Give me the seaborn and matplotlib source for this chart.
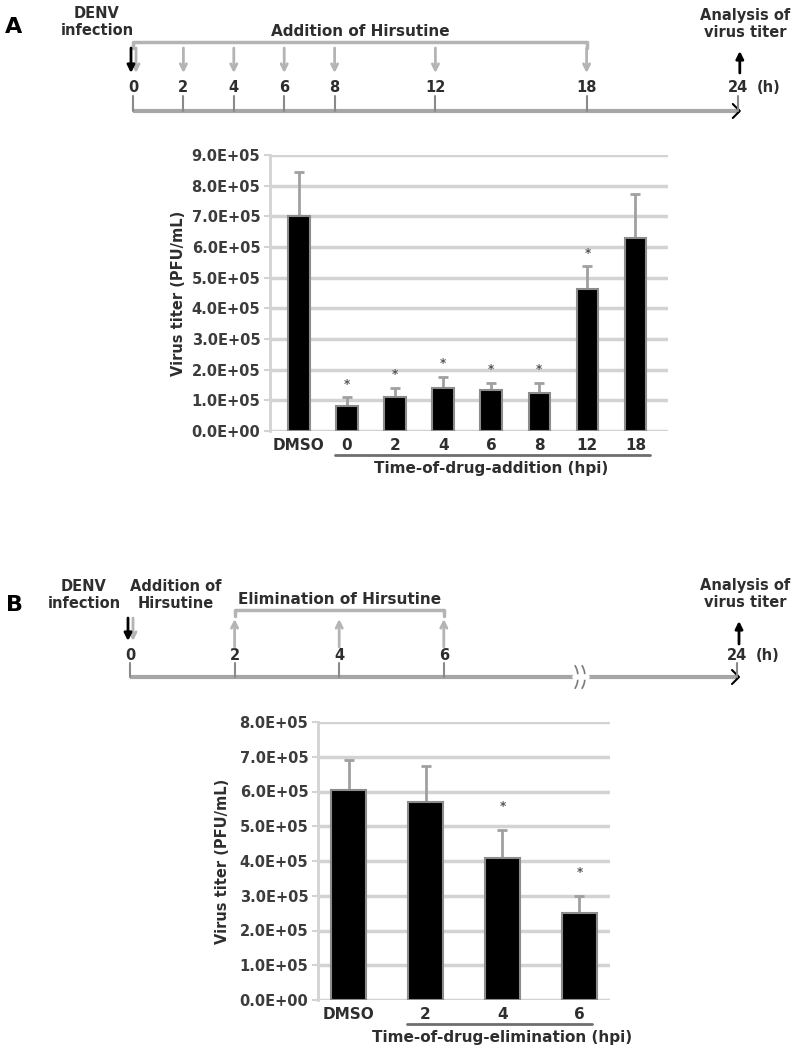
import numpy as np
import pandas as pd
import matplotlib
matplotlib.use("Agg")
import matplotlib.pyplot as plt
from matplotlib.patches import Arc
from matplotlib.ticker import FuncFormatter
import seaborn as sns

# --- data ---
# panel A: time-of-drug-addition
cats_a = ["DMSO", "0", "2", "4", "6", "8", "12", "18"]
titer_a = [7.0e5, 0.83e5, 1.10e5, 1.41e5, 1.34e5, 1.23e5, 4.62e5, 6.28e5]
err_a = [1.45e5, 0.27e5, 0.30e5, 0.36e5, 0.23e5, 0.34e5, 0.75e5, 1.44e5]
star_a = [False, True, True, True, True, True, True, False]

# panel B: time-of-drug-elimination
cats_b = ["DMSO", "2", "4", "6"]
titer_b = [6.03e5, 5.69e5, 4.09e5, 2.51e5]
err_b = [0.87e5, 1.03e5, 0.81e5, 0.49e5]
star_b = [False, False, True, True]

# timeline hours
addition_hours = [0, 2, 4, 6, 8, 12, 18]
elimination_hours = [2, 4, 6]

sns.set_style("white")
plt.rcParams["font.family"] = ["DejaVu Sans"]
plt.rcParams["font.weight"] = "bold"
plt.rcParams["axes.labelweight"] = "bold"

TXT = "#2e2e2e"
GRID = "#d3d3d3"
LGRAY = "#b4b4b4"
AXGRAY = "#a6a6a6"

fig = plt.figure(figsize=(7.95, 10.5), dpi=100)


def bar_panel(rect, cats, vals, errs, stars, ymax, star_off, xlabel,
              span, xlab_x, ylab_x):
    ax = fig.add_axes(rect)
    df = pd.DataFrame({"cond": cats, "titer": vals})
    sns.barplot(data=df, x="cond", y="titer", order=cats, color="black",
                saturation=1, width=0.45, edgecolor="#8c8c8c", linewidth=1.5,
                ax=ax, zorder=3)
    ax.errorbar(np.arange(len(cats)), vals,
                yerr=[np.zeros(len(errs)), errs], fmt="none",
                ecolor="#a0a0a0", elinewidth=2, capsize=3.5, capthick=2,
                zorder=2)
    for i, s in enumerate(stars):
        if s:
            ax.annotate("*", (i, vals[i] + errs[i]), xytext=(0, star_off),
                        textcoords="offset points", ha="center",
                        va="baseline", fontsize=8.5, color="#555555")
    ax.set_ylim(0, ymax)
    ax.set_yticks(np.arange(0, ymax + 1, 1e5))
    ax.yaxis.set_major_formatter(FuncFormatter(lambda v, p: f"{v:.1E}"))
    ax.yaxis.grid(True, color=GRID, lw=2.5)
    ax.set_axisbelow(True)
    for side in ["top", "right", "bottom"]:
        ax.spines[side].set_visible(False)
    ax.spines["left"].set_color(GRID)
    ax.spines["left"].set_linewidth(2)
    ax.tick_params(axis="y", length=4, width=1.5, color=GRID,
                   labelsize=10.5, labelcolor="#3c3c3c", pad=3, left=True)
    ax.tick_params(axis="x", length=0, labelsize=11, labelcolor=TXT, pad=5)
    ax.set_xlabel("")
    ax.set_ylabel("Virus titer (PFU/mL)", fontsize=10.5, color=TXT)
    ax.yaxis.set_label_coords(ylab_x, 0.5)
    tr = ax.get_xaxis_transform()
    ax.plot(span, [-0.088, -0.088], transform=tr, clip_on=False,
            color="#6e6e6e", lw=2)
    ax.text(xlab_x, -0.135, xlabel, transform=tr, ha="center", va="center",
            fontsize=11, color=TXT)
    return ax


bar_panel([270 / 795, 1 - 431 / 1050, 398 / 795, 276 / 1050],
          cats_a, titer_a, err_a, star_a, 9e5, 7,
          "Time-of-drug-addition (hpi)", [0.75, 7.3], 4.0, -0.21)
bar_panel([318 / 795, 1 - 1000 / 1050, 292 / 795, 278 / 1050],
          cats_b, titer_b, err_b, star_b, 8e5, 14,
          "Time-of-drug-elimination (hpi)", [0.76, 3.16], 2.0, -0.30)

# --- timelines drawn on an overlay in pixel units ---
ov = fig.add_axes([0, 0, 1, 1])
ov.set_xlim(0, 795)
ov.set_ylim(1050, 0)
ov.axis("off")


def arrow(x, y0, y1, color, filled=False, lw=2):
    style = "-|>" if filled else "->"
    ov.annotate("", xy=(x, y1), xytext=(x, y0),
                arrowprops=dict(arrowstyle=style, color=color, lw=lw,
                                mutation_scale=11, shrinkA=0, shrinkB=0))


def label(x, y, s, size=10.5, ha="center"):
    ov.text(x, y, s, ha=ha, va="center", fontsize=size, color=TXT,
            linespacing=1.1)


def axis_line(x0, x1, y):
    ov.plot([x0, x1], [y, y], color=AXGRAY, lw=3, solid_capstyle="butt")
    ov.plot([x1 - 7, x1, x1 - 7], [y - 7, y, y + 7], color="black", lw=1.5)


# panel A timeline
def xa(h):
    return 133 + 25.2 * h


ya = 111
axis_line(xa(0), xa(24) + 2, ya)
for h in addition_hours + [24]:
    ov.plot([xa(h), xa(h)], [96, ya], color="#8a8a8a", lw=1.5)
    label(xa(h), 88, str(h))
label(xa(24) + 31, 88, "(h)")
for h in addition_hours:
    arrow(xa(h) + (3 if h == 0 else 0), 48, 73, LGRAY)
arrow(xa(0) - 2, 48, 73, "black", filled=True)
ov.plot([xa(0), xa(0), xa(18), xa(18)], [48, 42, 42, 48], color=LGRAY, lw=2.5)
label(360, 32, "Addition of Hirsutine", size=11)
label(97, 22, "DENV\ninfection")
label(745, 24, "Analysis of\nvirus titer")
arrow(xa(24) + 2, 73, 51, "black", filled=True)
ov.text(14, 27, "A", ha="center", va="center", fontsize=16, color="black")


# panel B timeline
def xb(h):
    return 130 + 52.3 * h if h <= 6 else 737


yb = 677
axis_line(xb(0), xb(24) + 2, yb)
ov.plot([575, 587], [yb, yb], color="white", lw=4)
for cx in [578, 585]:
    ov.add_patch(Arc((cx - 10, yb), 20, 32, theta1=-60, theta2=60,
                     color="#7a7a7a", lw=1.2))
for h in [0] + elimination_hours + [24]:
    ov.plot([xb(h), xb(h)], [663, yb], color="#8a8a8a", lw=1.5)
    label(xb(h), 655, str(h))
label(xb(24) + 31, 655, "(h)")
arrow(xb(0) + 3, 618, 641, LGRAY)
arrow(xb(0) - 2, 618, 641, "black", filled=True)
for h in elimination_hours:
    arrow(xb(h), 647, 619, LGRAY)
ov.plot([xb(2), xb(2), xb(6), xb(6)], [616, 610, 610, 616], color=LGRAY, lw=2.5)
label(340, 600, "Elimination of Hirsutine", size=11)
label(84, 595, "DENV\ninfection")
label(176, 595, "Addition of\nHirsutine")
label(745, 594, "Analysis of\nvirus titer")
arrow(xb(24) + 2, 644, 621, "black", filled=True)
ov.text(14, 605, "B", ha="center", va="center", fontsize=16, color="black")

fig.savefig("out.png", dpi=100)
